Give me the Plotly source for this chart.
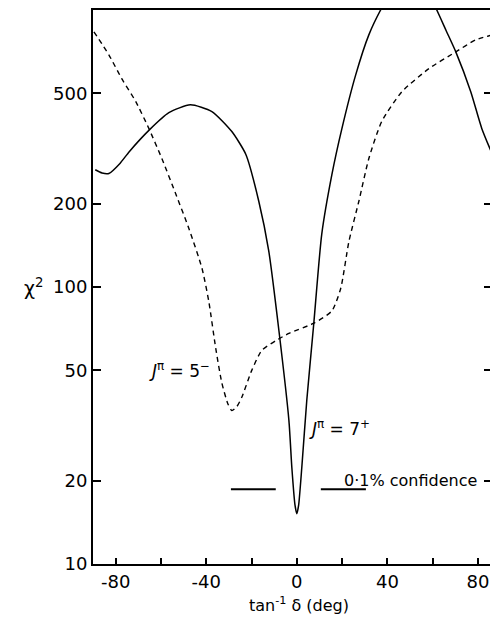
import math
import plotly.graph_objects as go

# J^pi = 7+ (solid)
solid_x = [-89, -86, -83, -78, -74, -65, -56.5, -47, -37.5, -28.7, -22.5, -16.8, -12.4, -7.9,
           -3.5, -2.2, -0.8, 0, 0.8, 2.2, 4.4, 7.5, 11, 15.5, 19.9, 26, 31.8, 37, 44, 50, 56,
           61.8, 66, 70.2, 76.8, 81.7, 88]
solid_y = [265, 258, 257, 280, 308, 370, 426, 455, 430, 364, 301, 204, 135, 69.5,
           33, 22.3, 16.3, 15.2, 16.3, 22.3, 39, 74, 155, 255, 373, 583, 813, 1000, 1250, 1350, 1250,
           1000, 840, 706, 507, 373, 280]

# J^pi = 5- (dashed)
dash_x = [-89.6, -83, -77.3, -71.1, -65.3, -59.6, -53.4, -47.7, -41.9, -38.9, -35.8, -33.1,
          -30.5, -28.7, -26.5, -24.3, -19.9, -15.5, -9.3, -3.5, 7.5, 15.5, 19.4, 23, 27.4,
          31.8, 37.5, 46.4, 58.3, 70.2, 79, 88]
dash_y = [834, 689, 565, 467, 373, 291, 216, 163, 117, 89, 60, 45,
          38, 35.8, 37, 40, 50, 59, 64, 68, 74, 82, 99, 146, 204,
          291, 396, 507, 614, 706, 780, 820]

# 0.1% confidence level
conf_level = 18.6
conf_x = [-29.1, -9.3, None, 10.6, 30.5]

x_ticks = [-80, -40, 0, 40, 80]
x_ticktext = ["-80", "-40", "0", "40", "80"]
x_minor_ticks = [-60, -20, 20, 60]
y_ticks = [10, 20, 50, 100, 200, 500]
y_ticktext = ["10", "20", "50", "100", "200", "500"]

FONT = "DejaVu Sans"

fig = go.Figure()
fig.add_trace(go.Scatter(x=solid_x, y=solid_y, mode="lines",
                         line=dict(color="black", width=1.5, shape="spline", smoothing=0.6),
                         showlegend=False, hoverinfo="skip"))
fig.add_trace(go.Scatter(x=dash_x, y=dash_y, mode="lines",
                         line=dict(color="black", width=1.4, dash="5px,4px", shape="spline", smoothing=0.6),
                         showlegend=False, hoverinfo="skip"))
fig.add_trace(go.Scatter(x=conf_x, y=[conf_level if v is not None else None for v in conf_x],
                         mode="lines", line=dict(color="black", width=2),
                         showlegend=False, hoverinfo="skip", connectgaps=False))
# invisible trace for right-hand tick axis
fig.add_trace(go.Scatter(x=[0], y=[100], yaxis="y2", mode="markers",
                         marker=dict(opacity=0), showlegend=False, hoverinfo="skip"))

fig.update_layout(
    width=482, height=606,
    margin=dict(l=85, r=0, t=0, b=50),
    paper_bgcolor="white", plot_bgcolor="white",
    font=dict(family=FONT, color="black", size=18),
    xaxis=dict(range=[-90, 85.3], tickvals=x_ticks, ticktext=x_ticktext,
               ticks="inside", ticklen=6, tickwidth=1.5, tickcolor="black",
               minor=dict(tickvals=x_minor_ticks, ticks="inside", ticklen=6, tickwidth=1.5,
                          tickcolor="black", showgrid=False),
               showline=True, linewidth=2, linecolor="black", mirror=True,
               showgrid=False, zeroline=False, tickfont=dict(size=18, family=FONT)),
    yaxis=dict(type="log", range=[1, 3], tickvals=y_ticks, ticktext=y_ticktext,
               ticks="inside", ticklen=8, tickwidth=1.5, tickcolor="black",
               showline=True, linewidth=2, linecolor="black",
               showgrid=False, zeroline=False, tickfont=dict(size=18, family=FONT)),
    yaxis2=dict(type="log", range=[1, 3], overlaying="y", side="right",
                tickvals=y_ticks, showticklabels=False, ticks="inside", ticklen=6,
                tickwidth=1.5, tickcolor="black", showline=False, showgrid=False,
                zeroline=False),
)

fig.add_annotation(text="χ<sup>2</sup>", xref="paper", yref="y", x=-0.15, y=2.0,
                   showarrow=False, font=dict(size=19, family=FONT), xanchor="center", yanchor="middle")
fig.add_annotation(text="tan<sup>-1</sup> δ (deg)", xref="paper", yref="paper", x=0.52, y=-0.073,
                   showarrow=False, font=dict(size=16, family=FONT), xanchor="center", yanchor="middle")
fig.add_annotation(text="<i>J</i><sup>π</sup> = 5<sup>−</sup>", xref="x", yref="y", x=-37.5,
                   y=1.70, showarrow=False, font=dict(size=17, family=FONT),
                   xanchor="right", yanchor="middle")
fig.add_annotation(text="<i>J</i><sup>π</sup> = 7<sup>+</sup>", xref="x", yref="y", x=4.4,
                   y=1.49, showarrow=False, font=dict(size=17, family=FONT),
                   xanchor="left", yanchor="middle")
fig.add_annotation(text="0·1% confidence", xref="x", yref="y", x=19.9, y=1.30,
                   showarrow=False, font=dict(size=16, family=FONT),
                   xanchor="left", yanchor="middle")

fig.write_html("out.html")
